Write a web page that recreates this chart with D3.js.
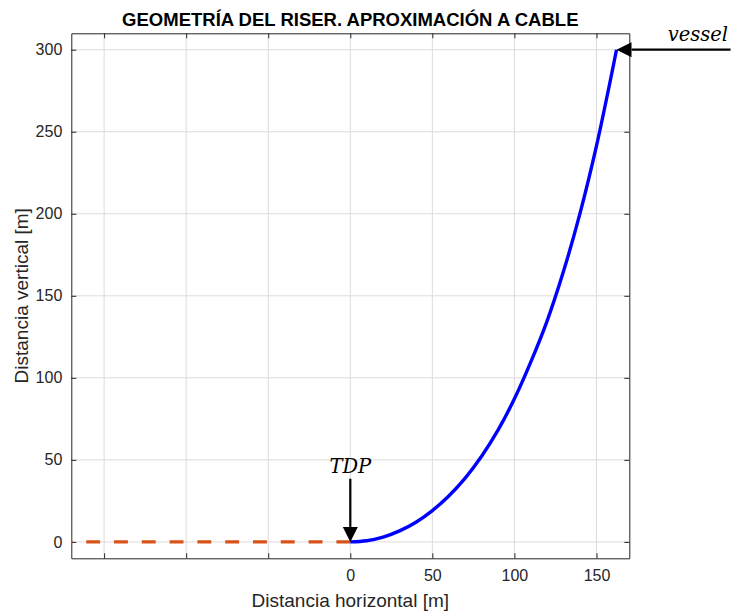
<!DOCTYPE html>
<html><head><meta charset="utf-8">
<script src="https://cdn.jsdelivr.net/npm/d3@7"></script>
<style>
html,body{margin:0;padding:0;background:#fff;}
svg{display:block;}
</style></head>
<body>
<script>
// Data
const riserX = [0,10,20,30,40,50,60,70,80,90,100,110,120,130,140,150,160,162.2];
const riserY = [0,0.7,2.9,6.7,12.0,19.1,28.0,38.9,52.2,68.1,87.2,109.7,134.9,165.2,200.4,241.4,288.9,300];
const seabedX = [0,-170];
const seabedY = [0,0];
const xTicks = [-150,-100,-50,0,50,100,150];
const xTickLabels = ["","","","0","50","100","150"];
const yTicks = [0,50,100,150,200,250,300];
const yTickLabels = ["0","50","100","150","200","250","300"];
const tdpPoint = [0,0], tdpStart = [0,38.5];
const vesselPoint = [162.2,300], vesselStart = [231.7,300];

const W=731,H=611;
const m={l:71.3,r:629.3,t:33.3,b:558.3};
const svg=d3.select("body").append("svg").attr("width",W).attr("height",H);
const x=d3.scaleLinear().domain([-170,170]).range([m.l,m.r]);
const y=d3.scaleLinear().domain([-10,310]).range([m.b,m.t]);
const axisCol="#262626", gridCol="#dcdcdc";

// grid
const g=svg.append("g");
g.selectAll(".gx").data(xTicks).join("line")
 .attr("x1",d=>x(d)).attr("x2",d=>x(d)).attr("y1",m.t).attr("y2",m.b)
 .attr("stroke",gridCol).attr("stroke-width",1);
g.selectAll(".gy").data(yTicks).join("line")
 .attr("y1",d=>y(d)).attr("y2",d=>y(d)).attr("x1",m.l).attr("x2",m.r)
 .attr("stroke",gridCol).attr("stroke-width",1);

// axes
const fontT="'Liberation Sans', Arial, sans-serif";
const xb=svg.append("g").attr("transform",`translate(0,${m.b})`)
 .call(d3.axisBottom(x).tickValues(xTicks).tickFormat((d,i)=>xTickLabels[i]).tickSizeInner(-5).tickSizeOuter(0).tickPadding(11));
const xt=svg.append("g").attr("transform",`translate(0,${m.t})`)
 .call(d3.axisTop(x).tickValues(xTicks).tickFormat("").tickSizeInner(-5).tickSizeOuter(0));
const yl=svg.append("g").attr("transform",`translate(${m.l},0)`)
 .call(d3.axisLeft(y).tickValues(yTicks).tickFormat((d,i)=>yTickLabels[i]).tickSizeInner(-5).tickSizeOuter(0).tickPadding(9));
const yr=svg.append("g").attr("transform",`translate(${m.r},0)`)
 .call(d3.axisRight(y).tickValues(yTicks).tickFormat("").tickSizeInner(-5).tickSizeOuter(0));
[xb,xt,yl,yr].forEach(a=>{
  a.select(".domain").attr("stroke",axisCol).attr("stroke-width",1);
  a.selectAll(".tick line").attr("stroke",axisCol).attr("stroke-width",1);
  a.selectAll(".tick text").attr("fill",axisCol).attr("font-family",fontT).attr("font-size",16);
});

// lines
const lineStraight=d3.line().x(d=>x(d[0])).y(d=>y(d[1]));
const lineSmooth=d3.line().x(d=>x(d[0])).y(d=>y(d[1])).curve(d3.curveCatmullRom);
svg.append("path").datum(seabedX.map((v,i)=>[v,seabedY[i]]))
 .attr("d",lineStraight).attr("fill","none").attr("stroke","#D95319").attr("stroke-width",3.3)
 .attr("stroke-dasharray","13.9,13.9");
svg.append("path").datum(riserX.map((v,i)=>[v,riserY[i]]))
 .attr("d",lineSmooth).attr("fill","none").attr("stroke","#0000FF").attr("stroke-width",3.4)
 .attr("stroke-linejoin","round");

// arrows
function arrow(from,to){
  const x1=x(from[0]),y1=y(from[1]),x2=x(to[0]),y2=y(to[1]);
  const ang=Math.atan2(y2-y1,x2-x1), L=15, hw=7.5;
  const bx=x2-L*Math.cos(ang), by=y2-L*Math.sin(ang);
  svg.append("line").attr("x1",x1).attr("y1",y1).attr("x2",bx).attr("y2",by)
   .attr("stroke","#000").attr("stroke-width",2.2);
  const px=-Math.sin(ang), py=Math.cos(ang);
  svg.append("path").attr("d",`M${x2},${y2}L${bx+px*hw},${by+py*hw}L${bx-px*hw},${by-py*hw}Z`).attr("fill","#000");
}
arrow(tdpStart,tdpPoint);
arrow(vesselStart,vesselPoint);
svg.append("text").attr("x",x(tdpStart[0])).attr("y",y(tdpStart[1])-6).attr("text-anchor","middle")
 .attr("font-family","'DejaVu Serif', serif").attr("font-style","italic").attr("font-size",19.5).attr("fill","#000").text("TDP");
svg.append("text").attr("x",728).attr("y",y(vesselPoint[1])-9).attr("text-anchor","end")
 .attr("font-family","'DejaVu Serif', serif").attr("font-style","italic").attr("font-size",19.5).attr("fill","#000").text("vessel");

// title and labels
svg.append("text").attr("x",(m.l+m.r)/2).attr("y",26).attr("text-anchor","middle")
 .attr("font-family",fontT).attr("font-weight","bold").attr("font-size",18.5).attr("fill","#000")
 .text("GEOMETRÍA DEL RISER. APROXIMACIÓN A CABLE");
svg.append("text").attr("x",(m.l+m.r)/2).attr("y",607).attr("text-anchor","middle")
 .attr("font-family",fontT).attr("font-size",19).attr("fill",axisCol).text("Distancia horizontal [m]");
svg.append("text").attr("transform",`translate(28,${(m.t+m.b)/2}) rotate(-90)`).attr("text-anchor","middle")
 .attr("font-family",fontT).attr("font-size",19).attr("fill",axisCol).text("Distancia vertical [m]");
</script>
</body></html>
